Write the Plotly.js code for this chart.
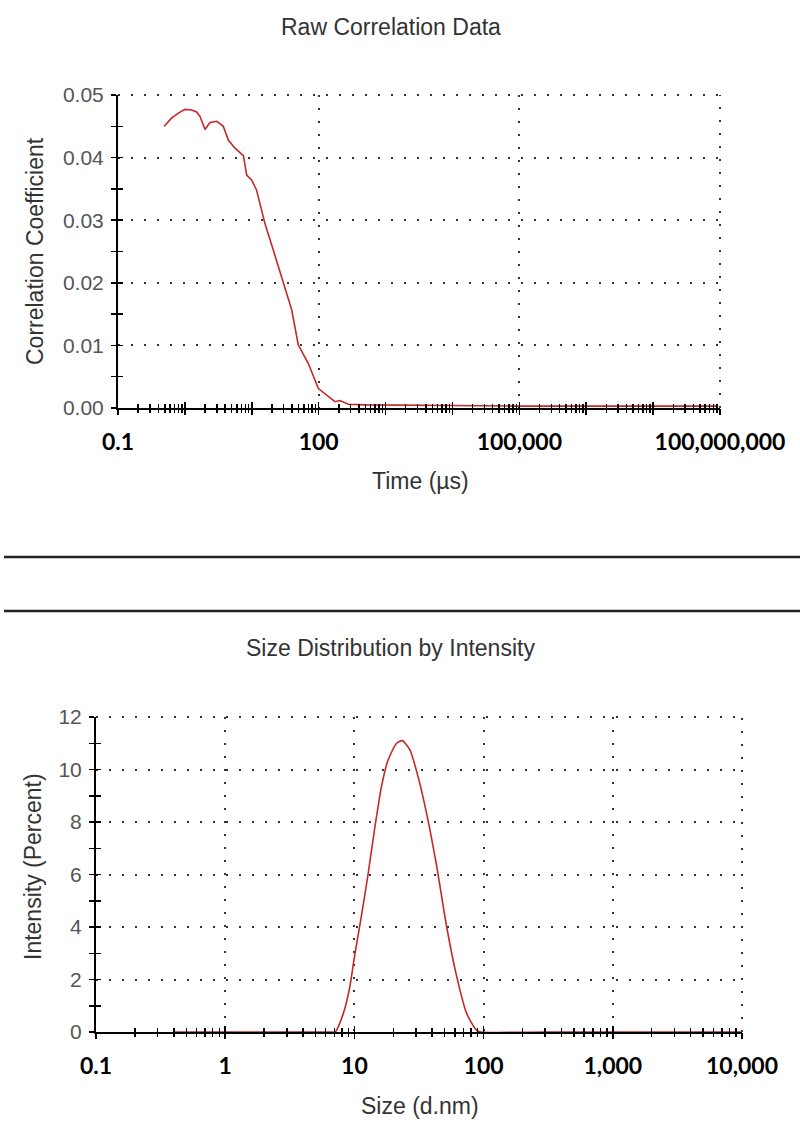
<!DOCTYPE html>
<html>
<head>
<meta charset="utf-8">
<script src="https://cdn.plot.ly/plotly-3.0.1.min.js"></script>
<style>html,body{margin:0;padding:0;background:#fff;}#chart{width:800px;height:1124px;}</style>
</head>
<body>
<div id="chart"></div>
<script>
// ---- Raw Correlation Data ----
const timeUs = [0.49, 0.63, 0.80, 1.0, 1.26, 1.5, 1.68, 2.0, 2.37, 3.0, 3.75, 4.46, 5.6, 7.5, 8.4, 10, 11.8, 15.7, 21, 29.6, 39.5, 49.5, 70, 99, 131, 175, 208, 277, 500, 925, 3000, 10000, 100000, 1000000, 10000000, 90000000];
const corrCoef = [0.0450, 0.0463, 0.0471, 0.0477, 0.0476, 0.0473, 0.0466, 0.0445, 0.0456, 0.0458, 0.0450, 0.0428, 0.0415, 0.0403, 0.0372, 0.0364, 0.0348, 0.0295, 0.0252, 0.0199, 0.0157, 0.0101, 0.0071, 0.0031, 0.0021, 0.0010, 0.0012, 0.0006, 0.0005, 0.0005, 0.0004, 0.0004, 0.0003, 0.0003, 0.0003, 0.0003];
const timeTickVals = [0.1, 100, 100000, 100000000];
const timeTickText = ['0.1', '100', '100,000', '100,000,000'];
const corrTickVals = [0, 0.01, 0.02, 0.03, 0.04, 0.05];
const corrTickText = ['0.00', '0.01', '0.02', '0.03', '0.04', '0.05'];

// ---- Size Distribution by Intensity ----
const sizeNm = [0.4, 1, 3, 6.5, 7.1, 8.2, 9.2, 10, 11.4, 12.8, 14.4, 16.2, 18.2, 21.2, 23.5, 26.9, 31.2, 36.3, 43.4, 51.8, 62, 74, 88, 95, 300, 1000, 10000];
const intensityPct = [0, 0, 0, 0, 0, 0.7, 1.7, 2.85, 4.5, 6.05, 7.8, 9.35, 10.35, 11.0, 11.1, 10.75, 9.7, 8.3, 6.3, 4.0, 2.1, 0.7, 0.07, 0, 0, 0, 0];
const sizeTickVals = [0.1, 1, 10, 100, 1000, 10000];
const sizeTickText = ['0.1', '1', '10', '100', '1,000', '10,000'];
const intTickVals = [0, 2, 4, 6, 8, 10, 12];
const intTickText = ['0', '2', '4', '6', '8', '10', '12'];

const W = 800, H = 1124;
const px = v => v / W;
const py = v => 1 - v / H;

function decades(lo, hi) { const a = []; for (let e = lo; e <= hi; e++) a.push(Math.pow(10, e)); return a; }
function subs(lo, hi) { const a = []; for (let e = lo; e < hi; e++) for (let k = 2; k <= 9; k++) a.push(k * Math.pow(10, e)); return a; }

const lineColor = '#c42828';
const gridColor = '#333';
const gridDash = '2px,11px';
const gridCommon = { showgrid: true, gridcolor: gridColor, griddash: gridDash, gridwidth: 2 };
const textFamily = 'Liberation Sans, Arial, sans-serif';
const tickFontGray = { family: textFamily, size: 21, color: '#555' };
const tickFontBold = { family: 'Lato, sans-serif', size: 23, color: '#000', weight: 'bold' };
const titleFont = { family: textFamily, size: 23, color: '#333' };

function crossX(base, anchor, lo, hi, dir, dom) {
  return {
    overlaying: base, anchor: anchor, type: 'log', range: [lo, hi], domain: dom,
    tickmode: 'array', tickvals: decades(lo, hi), ticks: dir, ticklen: 6, tickwidth: 1.5, tickcolor: '#000',
    minor: { tickmode: 'array', tickvals: subs(lo, hi), ticks: dir, ticklen: 4, tickwidth: 1.5, tickcolor: '#000' },
    showticklabels: false, showgrid: false, showline: false, zeroline: false, fixedrange: true
  };
}
function crossY(base, anchor, range, major, minorD, dir, dom) {
  return {
    overlaying: base, anchor: anchor, range: range, domain: dom,
    tickmode: 'linear', tick0: 0, dtick: major, ticks: dir, ticklen: 5, tickwidth: 1.5, tickcolor: '#000',
    minor: { tick0: 0, dtick: minorD, ticks: dir, ticklen: 5, tickwidth: 1.5, tickcolor: '#000' },
    showticklabels: false, showgrid: false, showline: false, zeroline: false, fixedrange: true
  };
}

const topX = [px(118), px(720)], topY = [py(408), py(95)];
const botX = [px(96), px(742)], botY = [py(1032), py(717)];

const ghost = (x, y, xa, ya) => ({ x: x, y: y, xaxis: xa, yaxis: ya, type: 'scatter', mode: 'lines', opacity: 0, hoverinfo: 'skip', line: { width: 1 } });

const data = [
  ghost(timeUs, corrCoef, 'x3', 'y3'),
  ghost(timeUs, corrCoef, 'x4', 'y3'),
  ghost(sizeNm, intensityPct, 'x5', 'y4'),
  ghost(sizeNm, intensityPct, 'x6', 'y4'),
  { x: timeUs, y: corrCoef, xaxis: 'x', yaxis: 'y', type: 'scatter', mode: 'lines',
    line: { color: lineColor, width: 1.6 }, cliponaxis: false, hoverinfo: 'skip' },
  { x: sizeNm, y: intensityPct, xaxis: 'x2', yaxis: 'y2', type: 'scatter', mode: 'lines',
    line: { color: lineColor, width: 1.6, shape: 'spline', smoothing: 0.6 }, cliponaxis: false, hoverinfo: 'skip' }
];

const edgeDot = (xref, yref, x0, x1, y0, y1) => ({ type: 'line', xref: xref, yref: yref, x0: x0, x1: x1, y0: y0, y1: y1, layer: 'below',
  line: { color: gridColor, width: 2, dash: gridDash } });

const layout = {
  width: W, height: H,
  margin: { l: 0, r: 0, t: 0, b: 0 },
  paper_bgcolor: '#fff', plot_bgcolor: '#fff',
  showlegend: false,
  // top plot
  xaxis: Object.assign({
    domain: topX, anchor: 'y', type: 'log', range: [-1, 8],
    tickmode: 'array', tickvals: timeTickVals, ticktext: timeTickText, ticks: '',
    tickfont: tickFontBold, ticklabelstandoff: 12,
    showline: true, linecolor: '#000', linewidth: 2, zeroline: false, layer: 'below traces'
  }, gridCommon),
  yaxis: Object.assign({
    domain: topY, anchor: 'x', range: [0, 0.05],
    tickmode: 'array', tickvals: corrTickVals, ticktext: corrTickText, ticks: 'outside', ticklen: 5, tickwidth: 1.5, tickcolor: '#000',
    minor: { tick0: 0, dtick: 0.005, ticks: 'outside', ticklen: 5, tickwidth: 1.5, tickcolor: '#000' },
    tickfont: tickFontGray, ticklabelstandoff: 3,
    showline: true, linecolor: '#000', linewidth: 2, zeroline: false, layer: 'below traces'
  }, gridCommon),
  xaxis3: crossX('x', 'y3', -1, 8, 'outside', topX),
  xaxis4: crossX('x', 'y3', -1, 8, 'inside', topX),
  yaxis3: crossY('y', 'x3', [0, 0.05], 0.01, 0.005, 'inside', topY),
  // bottom plot
  xaxis2: Object.assign({
    domain: botX, anchor: 'y2', type: 'log', range: [-1, 4],
    tickmode: 'array', tickvals: sizeTickVals, ticktext: sizeTickText, ticks: '',
    tickfont: tickFontBold, ticklabelstandoff: 12,
    showline: true, linecolor: '#000', linewidth: 2, zeroline: false, layer: 'below traces'
  }, gridCommon),
  yaxis2: Object.assign({
    domain: botY, anchor: 'x2', range: [0, 12],
    tickmode: 'array', tickvals: intTickVals, ticktext: intTickText, ticks: 'outside', ticklen: 5, tickwidth: 1.5, tickcolor: '#000',
    minor: { tick0: 0, dtick: 1, ticks: 'outside', ticklen: 5, tickwidth: 1.5, tickcolor: '#000' },
    tickfont: tickFontGray, ticklabelstandoff: 3,
    showline: true, linecolor: '#000', linewidth: 2, zeroline: false, layer: 'below traces'
  }, gridCommon),
  xaxis5: crossX('x2', 'y4', -1, 4, 'outside', botX),
  xaxis6: crossX('x2', 'y4', -1, 4, 'inside', botX),
  yaxis4: crossY('y2', 'x5', [0, 12], 2, 1, 'inside', botY),
  shapes: [
    // dotted grid lines at the far ends of each range (top and right edges)
    edgeDot('x domain', 'y domain', 0, 1, 1, 1),
    edgeDot('x domain', 'y domain', 1, 1, 0, 1),
    edgeDot('x2 domain', 'y2 domain', 0, 1, 1, 1),
    edgeDot('x2 domain', 'y2 domain', 1, 1, 0, 1),
    // separator rules between the two reports
    { type: 'line', xref: 'paper', yref: 'paper', x0: px(4), x1: 1, y0: py(557), y1: py(557), line: { color: '#222', width: 2.5 } },
    { type: 'line', xref: 'paper', yref: 'paper', x0: px(4), x1: 1, y0: py(611), y1: py(611), line: { color: '#222', width: 2.5 } }
  ],
  annotations: [
    { text: 'Raw Correlation Data', xref: 'paper', yref: 'paper', x: px(391), y: py(27), xanchor: 'center', yanchor: 'middle', showarrow: false, font: titleFont },
    { text: 'Time (µs)', xref: 'paper', yref: 'paper', x: px(420), y: py(481), xanchor: 'center', yanchor: 'middle', showarrow: false, font: titleFont },
    { text: 'Correlation Coefficient', xref: 'paper', yref: 'paper', x: px(35), y: py(251), xanchor: 'center', yanchor: 'middle', showarrow: false, textangle: -90, font: titleFont },
    { text: 'Size Distribution by Intensity', xref: 'paper', yref: 'paper', x: px(390), y: py(648), xanchor: 'center', yanchor: 'middle', showarrow: false, font: titleFont },
    { text: 'Size (d.nm)', xref: 'paper', yref: 'paper', x: px(420), y: py(1106), xanchor: 'center', yanchor: 'middle', showarrow: false, font: titleFont },
    { text: 'Intensity (Percent)', xref: 'paper', yref: 'paper', x: px(33), y: py(867), xanchor: 'center', yanchor: 'middle', showarrow: false, textangle: -90, font: titleFont }
  ]
};

Plotly.newPlot('chart', data, layout, { staticPlot: true, displayModeBar: false });
</script>
</body>
</html>
